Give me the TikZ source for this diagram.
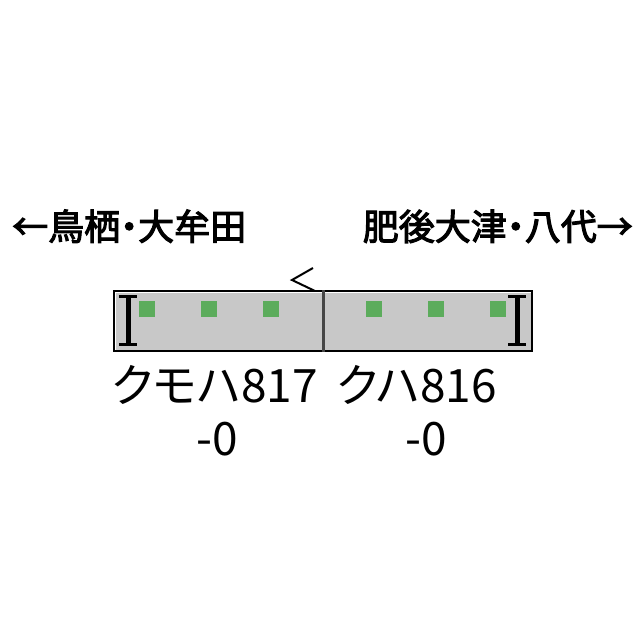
\documentclass[tikz,border=0pt]{standalone}
\usepackage{fontspec}
\usepackage{tikz}
\newfontfamily\jpfont[RawFeature=+palt]{Noto Sans CJK JP}
\newfontfamily\jpmid[RawFeature=+palt,FakeBold=3]{Noto Sans CJK JP}
\definecolor{carfill}{RGB}{200,200,200}
\definecolor{seatgreen}{RGB}{92,172,92}
\definecolor{jointgray}{RGB}{70,70,70}

\begin{document}
\begin{tikzpicture}[x=1pt,y=-1pt,
  frame/.style={draw=black,line width=2pt,fill=white,inner sep=0pt,minimum width=418pt,minimum height=60pt},
  seat/.style={fill=seatgreen,inner sep=0pt,minimum size=16pt},
  dest/.style={font=\jpmid\fontsize{36}{36}\selectfont,inner sep=0pt},
  carname/.style={font=\jpfont\fontsize{46}{46}\selectfont,inner sep=0pt,anchor=base}]
\useasboundingbox (0,0) rectangle (640,640);

% destinations
\node[dest,anchor=base west] (left) at (12,240) {←鳥栖・大牟田};
\node[dest,anchor=base east] (right) at (633,240) {肥後大津・八代→};

% train body
\node[frame] (train) at (323,321) {};
\fill[carfill] ([shift={(2.5,2.5)}]train.north west) rectangle ([shift={(-2.5,-2.5)}]train.south east);
\draw[jointgray,line width=3pt] (train.north) -- (train.south);

% seats
\foreach \sx [count=\i] in {147,209,271,374,436,498}
  \node[seat] (seat\i) at (\sx,309) {};

% cab ends
\foreach \ex in {128,517}{
  \draw[line width=5pt] (\ex,296) -- (\ex,345);
  \draw[line width=3.5pt] (\ex-9,296.5) -- (\ex+9,296.5);
  \draw[line width=3.5pt] (\ex-9,344.5) -- (\ex+9,344.5);
}

% pantograph
\draw[line width=2pt] (313,268) -- (292,280) -- (315,291);

% car names
\node[carname] (kumoha) at (215,402) {クモハ817};
\node[carname] (kumohanum) at (217,455) {-0};
\node[carname] (kuha) at (417,402) {クハ816};
\node[carname] (kuhanum) at (426,455) {-0};
\end{tikzpicture}
\end{document}
